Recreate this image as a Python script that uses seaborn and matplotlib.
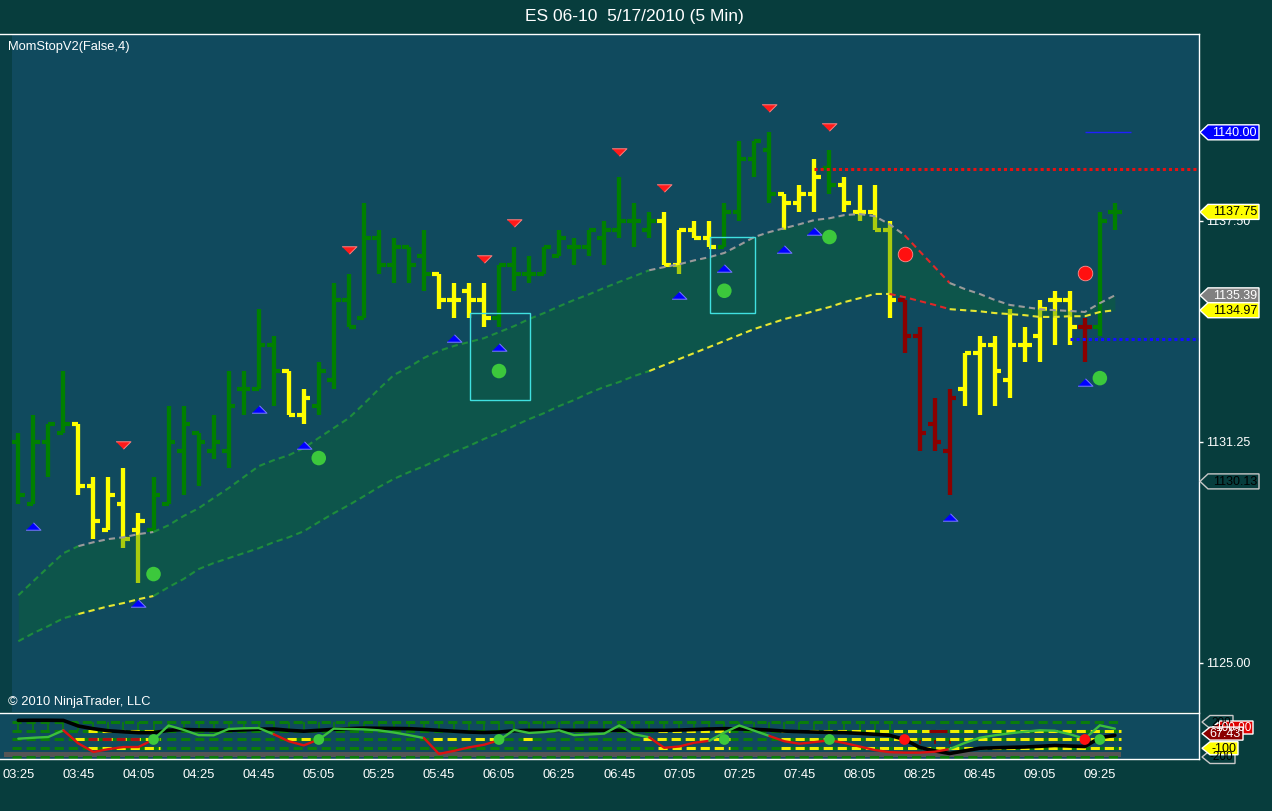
import numpy as np
import pandas as pd
import matplotlib
matplotlib.use("Agg")
import matplotlib.pyplot as plt
import seaborn as sns
from matplotlib.patches import Rectangle, Polygon

# ES 06-10 5 minute bars, 03:25 .. 09:30
opens = [1131.25, 1129.50, 1131.25, 1131.50, 1131.75, 1130.00, 1128.75, 1129.50, 1128.75, 1128.75,
         1129.50, 1131.00, 1131.50, 1131.00, 1131.00, 1132.75, 1132.75, 1134.00, 1133.25, 1132.00,
         1132.25, 1133.00, 1135.25, 1134.75, 1137.00, 1136.25, 1136.75, 1136.50, 1136.00, 1135.25,
         1135.50, 1135.25, 1134.75, 1136.25, 1136.00, 1136.00, 1136.50, 1136.75, 1136.75, 1137.00,
         1137.25, 1137.50, 1137.25, 1137.50, 1136.25, 1137.25, 1137.00, 1136.75, 1137.75, 1139.25,
         1139.50, 1138.25, 1138.00, 1138.25, 1139.00, 1138.50, 1137.75, 1137.75, 1137.25, 1135.25,
         1134.25, 1131.75, 1131.00, 1132.75, 1133.75, 1134.00, 1133.00, 1134.00, 1134.25, 1135.25,
         1135.25, 1134.50, 1134.50, 1137.75]
highs = [1131.50, 1132.00, 1131.75, 1133.25, 1131.75, 1130.25, 1130.25, 1130.50, 1129.25, 1130.25,
         1132.25, 1132.25, 1131.50, 1132.00, 1133.25, 1133.25, 1135.00, 1134.25, 1133.25, 1132.75,
         1133.50, 1135.75, 1136.00, 1138.00, 1137.25, 1137.00, 1136.75, 1137.25, 1136.00, 1135.75,
         1135.75, 1135.75, 1136.25, 1136.75, 1136.50, 1136.75, 1137.25, 1137.00, 1137.25, 1137.50,
         1138.75, 1138.00, 1137.75, 1137.75, 1137.25, 1137.50, 1137.50, 1138.00, 1139.75, 1139.75,
         1140.00, 1138.25, 1138.50, 1139.25, 1139.50, 1138.75, 1138.50, 1138.50, 1137.50, 1135.25,
         1134.50, 1132.50, 1132.75, 1133.75, 1134.25, 1134.25, 1135.00, 1134.50, 1135.25, 1135.50,
         1135.50, 1134.75, 1137.75, 1138.00]
lows = [1129.50, 1129.50, 1130.25, 1131.50, 1129.75, 1128.50, 1128.75, 1128.25, 1127.25, 1128.75,
        1129.50, 1129.75, 1130.00, 1130.75, 1130.50, 1132.00, 1132.75, 1132.25, 1132.00, 1131.75,
        1132.00, 1132.75, 1134.50, 1134.75, 1136.00, 1135.75, 1135.75, 1135.50, 1135.00, 1134.75,
        1134.75, 1134.50, 1134.50, 1135.50, 1135.75, 1136.00, 1136.50, 1136.25, 1136.50, 1136.25,
        1137.00, 1136.75, 1137.00, 1136.25, 1136.00, 1137.00, 1136.75, 1136.75, 1137.50, 1138.75,
        1138.00, 1137.25, 1137.75, 1137.75, 1138.25, 1137.75, 1137.50, 1137.25, 1134.75, 1133.75,
        1131.00, 1131.00, 1129.75, 1132.25, 1132.00, 1132.25, 1132.50, 1133.50, 1133.50, 1134.00,
        1134.00, 1133.50, 1134.25, 1137.25]
closes = [1129.75, 1131.25, 1131.75, 1131.75, 1130.00, 1129.00, 1129.75, 1128.50, 1129.00, 1129.75,
          1131.25, 1131.75, 1131.25, 1131.25, 1132.25, 1132.75, 1134.00, 1133.25, 1132.00, 1132.50,
          1133.25, 1135.25, 1134.50, 1137.00, 1136.25, 1136.75, 1136.25, 1136.00, 1135.25, 1135.25,
          1135.25, 1134.75, 1136.25, 1136.00, 1136.00, 1136.75, 1137.00, 1136.75, 1137.25, 1137.25,
          1137.50, 1137.50, 1137.50, 1136.25, 1137.25, 1137.00, 1136.75, 1137.75, 1139.25, 1139.75,
          1138.25, 1138.00, 1138.25, 1138.75, 1138.50, 1138.00, 1137.75, 1137.25, 1135.25, 1134.25,
          1131.50, 1131.25, 1132.50, 1133.75, 1134.00, 1133.25, 1134.00, 1134.00, 1135.00, 1135.25,
          1134.50, 1134.50, 1137.50, 1137.75]
bar_state = list("gggg" "yyyyy" "ggggggggg" "yy" "gggggggg" "yyyy" "ggggggggggg" "yyyy"
                 "gggg" "yyy" "g" "yyyy" "rrrr" "yyyyyyyy" "r" "gg")

# MomStop band
band_upper = [1126.91, 1127.31, 1127.71, 1128.10, 1128.30, 1128.41, 1128.50, 1128.55, 1128.64, 1128.70,
              1128.89, 1129.15, 1129.37, 1129.66, 1129.94, 1130.25, 1130.56, 1130.73, 1130.87, 1131.07,
              1131.36, 1131.64, 1131.92, 1132.32, 1132.74, 1133.14, 1133.36, 1133.62, 1133.82, 1133.96,
              1134.07, 1134.18, 1134.35, 1134.52, 1134.72, 1134.89, 1135.08, 1135.26, 1135.42, 1135.60,
              1135.77, 1135.93, 1136.10, 1136.19, 1136.27, 1136.38, 1136.47, 1136.59, 1136.81, 1137.04,
              1137.18, 1137.29, 1137.40, 1137.52, 1137.57, 1137.66, 1137.69, 1137.63, 1137.40, 1137.09,
              1136.64, 1136.19, 1135.74, 1135.57, 1135.43, 1135.26, 1135.12, 1135.06, 1135.00, 1134.97,
              1134.95, 1134.92, 1135.17, 1135.39]
band_lower = [1125.61, 1125.84, 1126.04, 1126.26, 1126.38, 1126.49, 1126.60, 1126.69, 1126.80, 1126.89,
              1127.14, 1127.37, 1127.65, 1127.82, 1127.96, 1128.10, 1128.24, 1128.41, 1128.55, 1128.72,
              1128.98, 1129.23, 1129.46, 1129.71, 1129.97, 1130.20, 1130.39, 1130.56, 1130.76, 1130.96,
              1131.13, 1131.33, 1131.50, 1131.70, 1131.89, 1132.06, 1132.26, 1132.43, 1132.63, 1132.80,
              1132.94, 1133.11, 1133.25, 1133.42, 1133.59, 1133.76, 1133.93, 1134.10, 1134.27, 1134.44,
              1134.58, 1134.72, 1134.83, 1134.95, 1135.06, 1135.20, 1135.31, 1135.43, 1135.43, 1135.34,
              1135.23, 1135.12, 1135.00, 1134.97, 1134.94, 1134.89, 1134.86, 1134.83, 1134.78, 1134.78,
              1134.80, 1134.80, 1134.92, 1134.97]
upper_runs = [(0, 4, "g"), (4, 9, "y"), (9, 42, "g"), (42, 59, "y"), (59, 62, "r"), (62, 73, "y")]
lower_runs = [(0, 4, "g"), (4, 9, "y"), (9, 42, "g"), (42, 58, "y"), (58, 62, "r"), (62, 73, "y")]

# signal markers
up_arrow_bars = [1, 8, 16, 19, 29, 32, 44, 47, 51, 53, 62, 71]
up_arrow_px = [1128.87, 1126.69, 1132.17, 1131.16, 1134.18, 1133.93, 1135.40, 1136.16, 1136.70, 1137.21, 1129.12, 1132.94]
dn_arrow_bars = [7, 22, 31, 33, 40, 43, 50, 54]
dn_arrow_px = [1131.16, 1136.67, 1136.42, 1137.43, 1139.44, 1138.42, 1140.69, 1140.15]
green_dot_bars = [9, 20, 32, 47, 54, 72]
green_dot_px = [1127.51, 1130.79, 1133.25, 1135.52, 1137.04, 1133.05]
red_dot_bars = [59, 71]
red_dot_px = [1136.56, 1136.02]
boxes = [(30.05, 34.05, 1132.43, 1134.89), (46.05, 49.05, 1134.89, 1137.04)]

# lower panel oscillator
osc_black = [219, 220, 220, 218, 154, 123, 100, 88, 78, 78,
             105, 114, 110, 108, 105, 110, 118, 120, 105, 95,
             105, 116, 124, 130, 128, 126, 124, 115, 105, 95,
             85, 80, 85, 100, 105, 105, 105, 105, 105, 105,
             105, 105, 105, 105, 108, 114, 120, 124, 120, 116,
             108, 96, 90, 85, 80, 78, 70, 60, 48, 0,
             -90, -130, -160, -130, -100, -95, -90, -86, -78, -68,
             -75, -80, 20, 48]
osc_cci = [9, 20, 29, 105, -45, -143, -110, -86, -86, 0,
           160, 110, 50, 48, 120, 128, 131, 60, -20, -67,
           0, 124, 120, 116, 105, 80, 50, 17, -165, -130,
           -90, -60, -9, 110, 75, 85, 105, 50, 58, 67,
           160, 60, 25, -95, -80, -37, -15, 80, 160, 100,
           40, -20, -48, -30, -9, -40, -80, -120, -145, -150,
           -150, -140, -110, -40, 20, 48, 70, 90, 105, 100,
           60, 9, 162, 124]
cci_runs = [(0, 3, "g"), (3, 9, "r"), (9, 17, "g"), (17, 20, "r"), (20, 27, "g"), (27, 32, "r"),
            (32, 42, "g"), (42, 46, "r"), (46, 50, "g"), (50, 54, "r"), (54, 62, "r"), (62, 73, "g")]
osc_levels = [200, 100, 0, -100, -200]
yellow_stops = {100: [(4.65, 9.45), (42.6, 47.4), (50.8, 73.4)],
                0: [(3.8, 9.45), (17.9, 19.6), (27.6, 31.9), (33.6, 34.4), (41.6, 47.4), (50.8, 73.4)],
                -100: [(4.65, 9.45), (42.6, 47.4), (50.8, 73.4)]}

time_labels = ["03:25", "03:45", "04:05", "04:25", "04:45", "05:05", "05:25", "05:45", "06:05", "06:25",
               "06:45", "07:05", "07:25", "07:45", "08:05", "08:25", "08:45", "09:05", "09:25"]

df = pd.DataFrame({"bar": np.arange(len(opens)), "open": opens, "high": highs, "low": lows,
                   "close": closes, "state": bar_state, "upper": band_upper, "lower": band_lower,
                   "black": osc_black, "cci": osc_cci})

sns.set_theme(style="dark")
plt.rcParams['font.family'] = ['Liberation Sans', 'DejaVu Sans']

BG = "#073d3d"
PANEL = "#104a5e"
W, H = 1272, 811
bar_col = {"g": "#008000", "y": "#ffff00", "r": "#8b0000"}
upper_col = {"g": "#1e8c3c", "y": "#9a9a9a", "r": "#e02828"}
lower_col = {"g": "#1e8c3c", "y": "#e6e632", "r": "#e02828"}
cci_col = {"g": "#3cbf3c", "r": "#dd1111"}


def px_rect(x0, y0, x1, y1):
    return [x0 / W, 1 - y1 / H, (x1 - x0) / W, (y1 - y0) / H]


fig = plt.figure(figsize=(W / 100, H / 100), dpi=100, facecolor=BG)
ax = fig.add_axes(px_rect(0, 34, 1199, 712), facecolor=PANEL)
axl = fig.add_axes(px_rect(0, 713, 1199, 759), facecolor=PANEL)
XL = (-1.22, 78.6)

# ---- main price panel
ax.set_xlim(*XL)
ax.set_ylim(1123.61, 1142.78)
ax.axvspan(XL[0], -0.42, color="#083f45", zorder=0, lw=0)

cols = [bar_col[s] for s in df["state"]]
ax.vlines(df["bar"], df["low"], df["high"], colors=cols, lw=3.1, zorder=2)
ax.hlines(df["open"], df["bar"] - 0.45, df["bar"], colors=cols, lw=3.0, zorder=2)
ax.hlines(df["close"], df["bar"], df["bar"] + 0.45, colors=cols, lw=3.0, zorder=2)

ax.fill_between(df["bar"], df["lower"], df["upper"], color="#0a6a2a", alpha=0.35, lw=0, zorder=3)


def draw_runs(axis, xs, ys, runs, cmap, **kw):
    for a, b, s in runs:
        axis.plot(xs[a:b + 1], ys[a:b + 1], color=cmap[s], **kw)


draw_runs(ax, df["bar"].values, df["upper"].values, upper_runs, upper_col, lw=1.5, ls=(0, (3, 2)), zorder=4)
draw_runs(ax, df["bar"].values, df["lower"].values, lower_runs, lower_col, lw=1.5, ls=(0, (3, 2)), zorder=4)

ax.hlines(1138.95, 53, XL[1], colors="#e81010", linestyles=(0, (1, 1)), lw=2.2, zorder=4)
ax.hlines(1134.17, 70, XL[1], colors="#1010ff", linestyles=(0, (1, 1)), lw=2.2, zorder=4)
ax.hlines(1140.0, 71, 74.1, colors="#2020ff", lw=1, zorder=4)

for x0, x1, y0, y1 in boxes:
    ax.add_patch(Rectangle((x0, y0), x1 - x0, y1 - y0, fill=False, ec="#40e0e0", lw=1, zorder=5))

tri_up = [(-7.5, -3.75), (7.5, -3.75), (0, 3.75)]
tri_dn = [(-7.5, 3.75), (7.5, 3.75), (0, -3.75)]
ax.scatter(up_arrow_bars, up_arrow_px, marker=tri_up, s=115, c="#0000ff", edgecolors="#7a7aff", linewidths=0.7, zorder=6)
ax.scatter(dn_arrow_bars, dn_arrow_px, marker=tri_dn, s=115, c="#ff1a1a", edgecolors="#ff8080", linewidths=0.7, zorder=6)
sns.scatterplot(x=green_dot_bars, y=green_dot_px, s=110, color="#3cc83c", edgecolor="none", ax=ax, zorder=6)
sns.scatterplot(x=red_dot_bars, y=red_dot_px, s=110, color="#ff1010", edgecolor="#ff9090", linewidth=0.6, ax=ax, zorder=6)

ax.yaxis.tick_right()
ax.set_yticks([1125.0, 1131.25, 1137.5])
ax.set_yticklabels(["1125.00", "1131.25", "1137.50"])
ax.tick_params(axis="y", colors="white", labelsize=9, length=3, width=1, pad=2, direction="out")
ax.set_xticks([])
for s in ["left", "bottom"]:
    ax.spines[s].set_visible(False)
for s in ["top", "right"]:
    ax.spines[s].set_color("white")
    ax.spines[s].set_linewidth(1)
ax.set_xlabel("")
ax.set_ylabel("")

# ---- lower oscillator panel
axl.set_xlim(*XL)
axl.set_ylim(-223, 303)
axl.fill_between([-0.95, 73.4], -200, -143, color="#555555", lw=0, zorder=1)
axl.hlines(osc_levels, -0.4, 73.4, colors="#0a7d0a", lw=2.2, linestyles=(0, (3, 1.6)), zorder=2)
for lvl, spans in yellow_stops.items():
    for a, b in spans:
        axl.hlines(lvl, a, b, colors="#f0f000", lw=2.2, linestyles=(0, (3, 1.6)), zorder=3)
axl.hlines(0, 4.65, 8.1, colors="#b01010", lw=2.2, linestyles=(0, (3, 1.6)), zorder=3)
axl.hlines(100, 60.6, 61.8, colors="#8b0000", lw=2.2, zorder=3)

for i, s in enumerate(df["state"]):
    if s == "r":
        axl.vlines(i, -55, -5, colors="#8b0000", lw=1.2, zorder=2)
    elif i < 59:
        axl.vlines(i, 100, 195, colors="#0a7d0a", lw=1.2, zorder=2)

sns.lineplot(data=df, x="bar", y="black", ax=axl, color="black", lw=2.6, zorder=5)
draw_runs(axl, df["bar"].values, df["cci"].values, cci_runs, cci_col, lw=1.7, zorder=6)
sns.scatterplot(x=green_dot_bars, y=[0] * len(green_dot_bars), s=60, color="#3cc83c", edgecolor="none", ax=axl, zorder=7)
sns.scatterplot(x=red_dot_bars, y=[0] * len(red_dot_bars), s=60, color="#ff1010", edgecolor="none", ax=axl, zorder=7)

axl.set_xticks(np.arange(0, 73, 4))
axl.set_xticklabels(time_labels)
axl.set_yticks([])
axl.tick_params(axis="x", colors="white", labelsize=9.3, length=4.5, width=1, pad=3, direction="out")
axl.spines["left"].set_visible(False)
for s in ["top", "bottom", "right"]:
    axl.spines[s].set_color("white")
    axl.spines[s].set_linewidth(1)
axl.set_xlabel("")
axl.set_ylabel("")

# ---- overlay for price tags and texts (pixel coordinates)
ov = fig.add_axes([0, 0, 1, 1], facecolor="none")
ov.set_xlim(0, W)
ov.set_ylim(H, 0)
ov.axis("off")


def to_px(axis, val):
    disp = axis.transData.transform((0, val))
    return ov.transData.inverted().transform(disp)[1]


def tag(axis, val, text, fc, tc, ec, x0=1200, w=59, h=15, fs=9):
    y = to_px(axis, val)
    pts = [(x0, y), (x0 + 8, y - h / 2), (x0 + w, y - h / 2), (x0 + w, y + h / 2), (x0 + 8, y + h / 2)]
    ov.add_patch(Polygon(pts, closed=True, fc=fc, ec=ec, lw=1))
    ov.text(x0 + w - 2, y + 0.5, text, color=tc, ha="right", va="center", fontsize=fs)


tag(ax, 1140.00, "1140.00", "#0000ff", "white", "white")
tag(ax, 1137.75, "1137.75", "#ffff00", "black", "white")
tag(ax, 1135.39, "1135.39", "#808080", "white", "white")
tag(ax, 1134.97, "1134.97", "#ffff00", "black", "white")
tag(ax, 1130.13, "1130.13", BG, "black", "#c8c8c8")

# stacked oscillator tags overlap each other in the original too
tag(axl, 200, "200", BG, "black", "#c8c8c8", x0=1202, w=31, h=13, fs=8.5)
tag(axl, -200, "-200", BG, "black", "#c8c8c8", x0=1202, w=33, h=13, fs=8.5)
tag(axl, 137, "100.00", "#e00000", "white", "white", x0=1212, w=41, h=13, fs=8.5)
tag(axl, 67.43, "67.43", "#8b0000", "white", "white", x0=1202, w=41, h=13, fs=9)
tag(axl, -100, "-100", "#ffff00", "black", "white", x0=1202, w=36, h=13, fs=9)

ov.text(634, 16, "ES 06-10  5/17/2010 (5 Min)", color="white", fontsize=12.5, ha="center", va="center")
ov.text(8, 47, "MomStopV2(False,4)", color="white", fontsize=9.3, ha="left", va="center")
ov.text(8, 702, "\u00a9 2010 NinjaTrader, LLC", color="white", fontsize=9.3, ha="left", va="center")

fig.savefig("out.png", dpi=100, facecolor=BG)
